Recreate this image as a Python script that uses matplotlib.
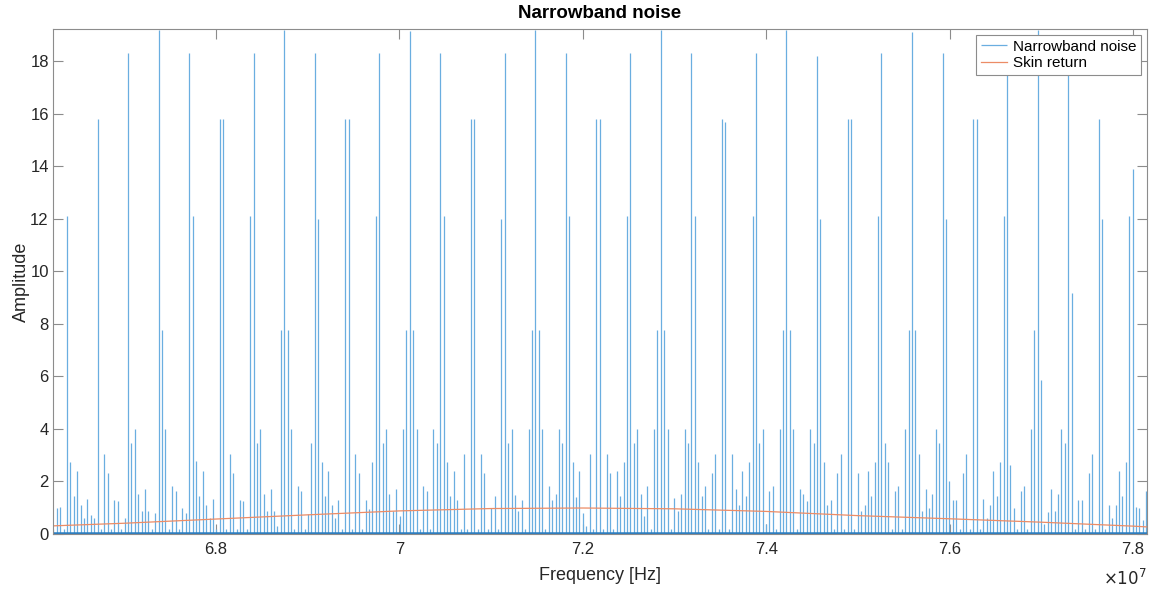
import matplotlib
matplotlib.use("Agg")
import matplotlib.pyplot as plt
import numpy as np

# spectrum bins (FFT grid), amplitude of each bin
f_start = 6.62268e7      # Hz, first bin
bin_width = 3.7012e4     # Hz
noise_amp = [
    0.2, 0.98, 1.04, 0.2, 12.1, 2.74, 1.45, 2.40, 1.09, 0.6,
    1.32, 0.73, 0.6, 15.8, 0.18, 3.04, 2.31, 0.18, 1.30, 1.27,
    0.2, 0.6, 18.3, 3.45, 4.0, 1.52, 0.89, 1.71, 0.88, 0.2,
    0.79, 19.2, 7.77, 4.0, 0.2, 1.82, 1.64, 0.2, 1.0, 0.79,
    18.3, 12.1, 2.77, 1.45, 2.40, 1.09, 0.6, 1.32, 0.2, 15.8,
    15.8, 0.2, 3.04, 2.31, 0.2, 1.30, 1.27, 0.2, 12.1, 18.3,
    3.45, 4.0, 1.52, 0.89, 1.71, 0.88, 0.3, 7.77, 19.2, 7.77,
    4.0, 0.2, 1.82, 1.64, 0.2, 0.76, 3.45, 18.3, 12.0, 2.74,
    1.45, 2.40, 1.09, 0.6, 1.30, 0.2, 15.8, 15.8, 0.2, 3.04,
    2.31, 0.2, 1.30, 0.94, 2.74, 12.1, 18.3, 3.45, 4.0, 1.52,
    0.89, 1.71, 0.67, 4.0, 7.77, 19.15, 7.77, 4.0, 0.2, 1.83,
    1.64, 0.2, 4.0, 3.45, 18.3, 12.1, 2.74, 1.45, 2.40, 1.30,
    0.2, 3.04, 0.2, 15.8, 15.8, 0.2, 3.04, 2.31, 0.2, 1.0,
    1.45, 0.2, 12.0, 18.3, 3.45, 4.0, 1.50, 0.89, 1.30, 0.2,
    4.0, 7.77, 19.2, 7.77, 4.0, 0.2, 1.83, 1.30, 1.52, 4.0,
    3.45, 18.3, 12.1, 2.74, 1.40, 2.40, 0.79, 0.30, 3.04, 0.2,
    15.8, 15.8, 0.2, 3.04, 2.31, 0.2, 2.40, 1.45, 2.74, 12.1,
    18.3, 3.45, 4.0, 1.52, 0.67, 1.82, 0.2, 4.0, 7.77, 19.2,
    7.77, 4.0, 0.2, 1.38, 0.88, 1.52, 4.0, 3.45, 18.3, 12.1,
    2.74, 1.45, 1.82, 0.2, 2.31, 3.04, 0.2, 15.8, 15.7, 0.2,
    3.04, 1.73, 1.09, 2.40, 1.45, 2.74, 12.1, 18.3, 3.45, 4.0,
    0.4, 1.64, 1.82, 0.2, 4.0, 7.77, 19.2, 7.77, 4.0, 0.2,
    1.70, 1.52, 1.27, 4.0, 3.45, 18.2, 12.0, 2.74, 1.09, 1.30,
    0.2, 2.31, 3.04, 0.2, 15.8, 15.8, 0.2, 2.31, 0.88, 1.09,
    2.40, 1.45, 2.74, 12.1, 18.3, 3.45, 2.74, 0.2, 1.64, 1.82,
    0.2, 4.0, 7.77, 19.1, 7.77, 3.04, 0.89, 1.71, 0.98, 1.54,
    4.0, 3.45, 18.3, 12.0, 2.02, 1.30, 1.30, 0.2, 2.31, 3.04,
    0.2, 15.8, 15.8, 0.2, 1.32, 0.6, 1.1, 2.40, 1.45, 2.74,
    12.1, 18.3, 2.61, 0.98, 0.2, 1.64, 1.82, 0.2, 4.0, 7.77,
    19.2, 5.87, 0.4, 0.84, 1.70, 0.89, 1.54, 4.0, 3.45, 18.3,
    9.19, 0.2, 1.30, 1.30, 0.2, 2.31, 3.04, 0.2, 15.8, 12.0,
    0.2, 1.09, 0.6, 1.09, 2.40, 1.45, 2.74, 12.1, 13.9, 1.04,
    0.98, 0.54, 1.64,
]

# skin return envelope, sampled
skin_freq = [6.6222e7, 6.7e7, 6.8e7, 6.9e7, 7.0e7, 7.1e7, 7.2e7, 7.3e7,
             7.4e7, 7.5e7, 7.6e7, 7.7e7, 7.8e7, 7.8153e7]
skin_amp = [0.31, 0.41, 0.57, 0.73, 0.88, 0.97, 0.99, 0.96,
            0.86, 0.70, 0.58, 0.45, 0.30, 0.27]

xtick_vals = [6.8e7, 7.0e7, 7.2e7, 7.4e7, 7.6e7, 7.8e7]
xtick_labels = ['6.8', '7', '7.2', '7.4', '7.6', '7.8']
ytick_vals = [0, 2, 4, 6, 8, 10, 12, 14, 16, 18]

plt.rcParams['font.family'] = ['Liberation Sans', 'DejaVu Sans']

amp = np.array(noise_amp)
freq = f_start + bin_width * np.arange(len(amp))

fig = plt.figure(figsize=(11.51, 5.90), dpi=100)
ax = fig.add_axes([0.046, 0.0949, 0.9505, 0.8559])

# spikes, one per bin, plus the dense floor along zero
ax.vlines(freq, 0, amp, color='#6aaee0', lw=0.9, label='Narrowband noise')
ax.plot([freq[0], freq[-1]], [0.05, 0.05], color='#2a7dc0', lw=1.8)
ax.plot(skin_freq, skin_amp, color='#ec8c66', lw=0.9, label='Skin return')

ax.set_xlim(6.6222e7, 7.8153e7)
ax.set_ylim(0, 19.23)
ax.set_xticks(xtick_vals)
ax.set_xticklabels(xtick_labels)
ax.set_yticks(ytick_vals)

axcol = '#8c8c8c'
for s in ax.spines.values():
    s.set_color(axcol)
    s.set_linewidth(0.8)
ax.tick_params(direction='in', length=7, width=0.8, color=axcol,
               labelsize=12, labelcolor='#262626', top=True, right=True, pad=3)
ax.tick_params(axis='x', pad=6)

ax.set_xlabel('Frequency [Hz]', fontsize=13, color='#262626', labelpad=7)
ax.set_ylabel('Amplitude', fontsize=13, color='#262626', labelpad=0)
ax.set_title('Narrowband noise', fontsize=13.5, fontweight='bold', pad=8)
ax.text(1.0, -0.088, r'$\times10^{7}$', transform=ax.transAxes,
        ha='right', va='center', fontsize=12, color='#262626')

leg = ax.legend(loc='upper right', fontsize=11, fancybox=False, framealpha=1,
                edgecolor=axcol, handlelength=1.7, borderaxespad=0.4,
                borderpad=0.3, labelspacing=0.15, handletextpad=0.4)
leg.get_frame().set_linewidth(0.8)

fig.savefig('out.png', dpi=100)
